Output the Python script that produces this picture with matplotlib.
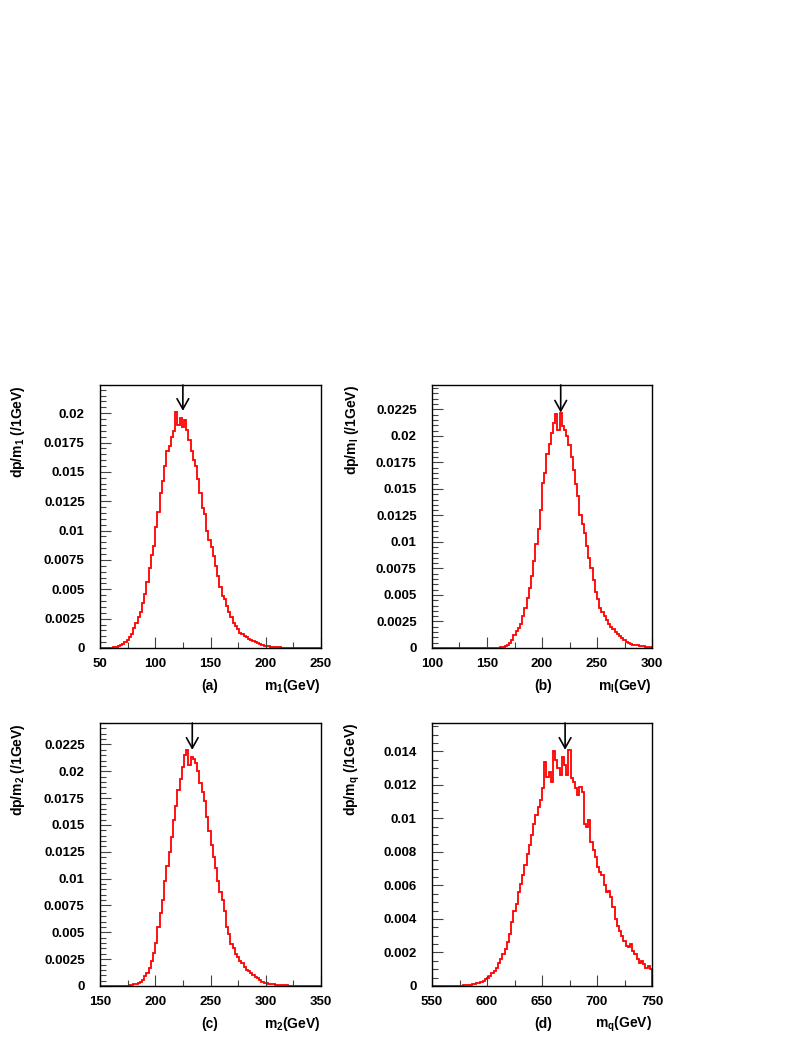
import numpy as np
import matplotlib
matplotlib.use("Agg")
import matplotlib.pyplot as plt
from matplotlib.ticker import MultipleLocator, FormatStrFormatter

plt.rcParams['font.family'] = ['Liberation Sans', 'DejaVu Sans']
plt.rcParams['font.weight'] = 'bold'
plt.rcParams['mathtext.fontset'] = 'custom'
plt.rcParams['mathtext.rm'] = 'Liberation Sans:bold'
plt.rcParams['mathtext.it'] = 'Liberation Sans:bold'
plt.rcParams['mathtext.bf'] = 'Liberation Sans:bold'

# ---------------- data (2 GeV bins) ----------------
bin_width = 2.0

a_start = 50
a_vals = [0, 0, 0, 0, 0.00002, 0.00004, 0.00006, 0.0001, 0.00015, 0.00025,
          0.00035, 0.0005, 0.00065, 0.0009, 0.0012, 0.0017, 0.0021, 0.0026, 0.0031, 0.0038,
          0.0046, 0.0056, 0.0068, 0.0079, 0.0087, 0.0103, 0.0116, 0.0132, 0.0142, 0.0155,
          0.0168, 0.0172, 0.0180, 0.0185, 0.0201, 0.0190, 0.0196, 0.0188, 0.0194, 0.0186,
          0.0177, 0.0168, 0.0160, 0.0155, 0.0144, 0.0132, 0.0119, 0.0114, 0.0100, 0.0092,
          0.0086, 0.0078, 0.0070, 0.0061, 0.0052, 0.0044, 0.0042, 0.0036, 0.0031, 0.0026,
          0.0021, 0.0019, 0.0016, 0.0013, 0.0012, 0.0010, 0.0009, 0.0008, 0.0007, 0.0006,
          0.0005, 0.0004, 0.0003, 0.00025, 0.0002, 0.00018, 0.00015, 0.00012, 0.0001, 0.00008,
          0.00006, 0.00005, 0.00004, 0.00003, 0.00002, 0.00002, 0, 0, 0, 0,
          0, 0, 0, 0, 0, 0, 0, 0, 0, 0]

b_start = 100
b_vals = [0, 0, 0, 0, 0, 0, 0, 0, 0, 0,
          0, 0, 0, 0, 0, 0, 0, 0, 0, 0,
          0, 0, 0, 0, 0, 0, 0, 0, 0, 0,
          0.00003, 0.00005, 0.0001, 0.0002, 0.0003, 0.0005, 0.0008, 0.0012, 0.0016, 0.0019,
          0.0023, 0.0030, 0.0038, 0.0047, 0.0057, 0.0068, 0.0082, 0.0098, 0.0112, 0.0130,
          0.0156, 0.0165, 0.0183, 0.0192, 0.0203, 0.0212, 0.0221, 0.0206, 0.0222, 0.0209,
          0.0206, 0.0200, 0.0191, 0.0180, 0.0168, 0.0155, 0.0143, 0.0125, 0.0117, 0.0108,
          0.0096, 0.0085, 0.0075, 0.0064, 0.0053, 0.0046, 0.0038, 0.0034, 0.0030, 0.0026,
          0.0023, 0.0020, 0.0018, 0.0015, 0.0013, 0.0011, 0.0009, 0.0008, 0.0006, 0.0005,
          0.0004, 0.0003, 0.0003, 0.00025, 0.0002, 0.0002, 0.00015, 0.00012, 0.0001, 0.0001]

c_start = 150
c_vals = [0, 0, 0, 0, 0, 0, 0, 0, 0, 0,
          0, 0.00002, 0.00004, 0.00006, 0.0001, 0.00015, 0.0002, 0.0003, 0.0004, 0.0006,
          0.0009, 0.0012, 0.0017, 0.0023, 0.0031, 0.0040, 0.0055, 0.0068, 0.0080, 0.0098,
          0.0112, 0.0125, 0.0139, 0.0155, 0.0168, 0.0183, 0.0193, 0.0204, 0.0215, 0.0220,
          0.0206, 0.0213, 0.0211, 0.0208, 0.0200, 0.0189, 0.0181, 0.0172, 0.0157, 0.0144,
          0.0131, 0.0120, 0.0110, 0.0098, 0.0088, 0.0080, 0.0070, 0.0055, 0.0048, 0.0039,
          0.0035, 0.0030, 0.0027, 0.0023, 0.0021, 0.0018, 0.0015, 0.0014, 0.0012, 0.0010,
          0.0008, 0.0007, 0.0006, 0.0004, 0.0003, 0.00025, 0.0002, 0.0002, 0.00015, 0.00012,
          0.0001, 0.0001, 0.00008, 0.00006, 0.00005, 0.00004, 0.00003, 0.00003, 0.00002, 0.00002,
          0, 0, 0, 0, 0, 0, 0, 0, 0, 0]

d_start = 550
d_vals = [0, 0, 0, 0, 0, 0, 0, 0, 0, 0,
          0, 0, 0, 0.00002, 0.00004, 0.00005, 0.00006, 0.00008, 0.0001, 0.00012,
          0.00015, 0.0002, 0.00025, 0.0003, 0.0004, 0.0005, 0.0006, 0.0008, 0.0009, 0.0011,
          0.0014, 0.0016, 0.0019, 0.0022, 0.0026, 0.0031, 0.0038, 0.0045, 0.0049, 0.0056,
          0.0061, 0.0066, 0.0072, 0.0079, 0.0084, 0.0090, 0.0097, 0.0102, 0.0107, 0.0111,
          0.0118, 0.0134, 0.0125, 0.0128, 0.0122, 0.0140, 0.0135, 0.0130, 0.0126, 0.0137,
          0.0132, 0.0126, 0.0141, 0.0124, 0.0122, 0.0118, 0.0114, 0.0119, 0.0116, 0.0097,
          0.0095, 0.0099, 0.0086, 0.0081, 0.0077, 0.0071, 0.0068, 0.0066, 0.0060, 0.0056,
          0.0057, 0.0053, 0.0047, 0.0040, 0.0036, 0.0033, 0.0030, 0.0027, 0.0024, 0.0023,
          0.0025, 0.0021, 0.0019, 0.0016, 0.0014, 0.0015, 0.0013, 0.0011, 0.0012, 0.0010]

# panel settings
x_ranges = [(50, 250), (100, 300), (150, 350), (550, 750)]
y_tops = [0.0224, 0.0248, 0.0245, 0.0157]
y_majors = [0.0025, 0.0025, 0.0025, 0.002]
arrow_x = [125.0, 217.0, 233.5, 671.0]
arrow_tip = [0.0202, 0.0222, 0.0220, 0.0141]
ylabels = [r'dp/m$_{1}$ (/1GeV)', r'dp/m$_{\mathrm{l}}$ (/1GeV)',
           r'dp/m$_{2}$ (/1GeV)', r'dp/m$_{\mathrm{q}}$ (/1GeV)']
xlabels = [r'm$_{1}$(GeV)', r'm$_{\mathrm{l}}$(GeV)', r'm$_{2}$(GeV)', r'm$_{\mathrm{q}}$(GeV)']
tags = ['(a)', '(b)', '(c)', '(d)']
starts = [a_start, b_start, c_start, d_start]
values = [a_vals, b_vals, c_vals, d_vals]

W, H = 806, 1042
fig = plt.figure(figsize=(W / 100, H / 100), dpi=100)

# pixel boxes: left, top, right, bottom
boxes = [(100, 385, 321, 648), (432, 385, 652, 648),
         (100, 723, 321, 986), (432, 723, 652, 986)]

for i in range(4):
    l, t, r, b = boxes[i]
    ax = fig.add_axes([l / W, 1 - b / H, (r - l) / W, (b - t) / H])
    vals = np.array(values[i])
    edges = starts[i] + bin_width * np.arange(len(vals) + 1)
    ax.stairs(vals, edges, color='#ff0000', lw=1.3)
    ax.set_xlim(*x_ranges[i])
    ax.set_ylim(0, y_tops[i])
    for sp in ax.spines.values():
        sp.set_linewidth(1.0)
    ax.xaxis.set_major_locator(MultipleLocator(50))
    ax.xaxis.set_minor_locator(MultipleLocator(25))
    ax.yaxis.set_major_locator(MultipleLocator(y_majors[i]))
    ax.yaxis.set_minor_locator(MultipleLocator(0.0005))
    ax.yaxis.set_major_formatter(FormatStrFormatter('%g'))
    ax.tick_params(which='both', direction='in', top=False, right=False,
                   width=0.8, color='#444444')
    ax.tick_params(which='major', length=8, labelsize=9.5)
    ax.tick_params(which='minor', length=4)
    ax.tick_params(axis='y', which='major', pad=11)
    ax.tick_params(axis='x', which='major', pad=7)
    for lab in ax.get_xticklabels() + ax.get_yticklabels():
        lab.set_fontweight('bold')

    ax.annotate('', xy=(arrow_x[i], arrow_tip[i]), xytext=(arrow_x[i], y_tops[i]),
                arrowprops=dict(arrowstyle='->, head_length=0.75, head_width=0.42',
                                mutation_scale=10, lw=1.2, color='black',
                                shrinkA=0, shrinkB=0))

    ylx = 18 if i % 2 == 0 else 352
    fig.text(ylx / W, 1 - t / H, ylabels[i], rotation=90, ha='center', va='top',
             fontsize=10, fontweight='bold')
    fig.text(r / W, 1 - (b + 38) / H, xlabels[i], ha='right', va='center',
             fontsize=10, fontweight='bold')
    tx = 210 if i % 2 == 0 else 543
    fig.text(tx / W, 1 - (b + 38) / H, tags[i], ha='center', va='center',
             fontsize=10, fontweight='bold')

fig.savefig('out.png', dpi=100)
